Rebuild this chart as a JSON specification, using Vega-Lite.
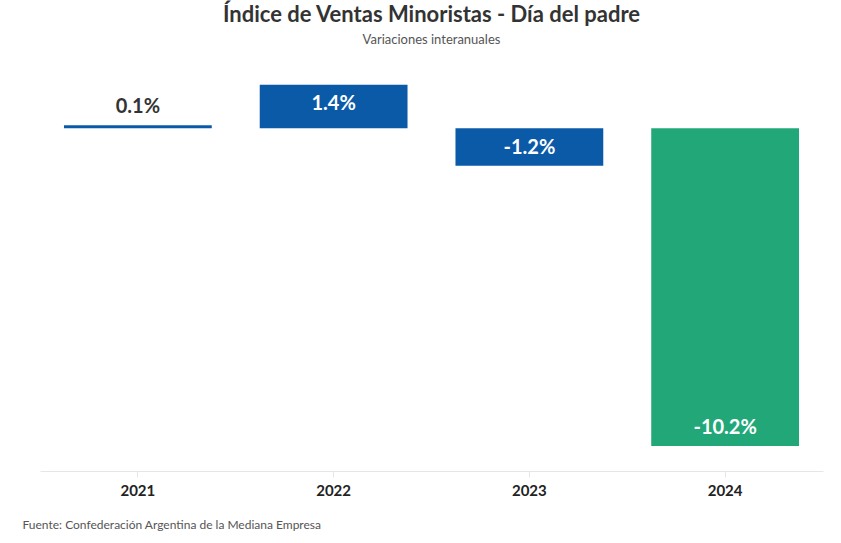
{
  "$schema": "https://vega.github.io/schema/vega-lite/v6.json",
  "width": 783,
  "height": 405,
  "autosize": {"type": "none"},
  "padding": {"left": 40, "top": 66, "right": 18, "bottom": 72},
  "background": "white",
  "config": {"font": "Lato", "view": {"stroke": null}},
  "title": {
    "text": "Índice de Ventas Minoristas - Día del padre",
    "subtitle": "Variaciones interanuales",
    "anchor": "middle",
    "fontSize": 22,
    "fontWeight": "bold",
    "color": "#333333",
    "subtitleFontSize": 13,
    "subtitleColor": "#555555",
    "subtitlePadding": 7,
    "offset": 18
  },
  "data": {
    "values": [
      {"year": "2021", "value": 0.1, "label": "0.1%"},
      {"year": "2022", "value": 1.4, "label": "1.4%"},
      {"year": "2023", "value": -1.2, "label": "-1.2%"},
      {"year": "2024", "value": -10.2, "label": "-10.2%"}
    ]
  },
  "encoding": {
    "x": {
      "field": "year",
      "type": "nominal",
      "scale": {"paddingInner": 0.245, "paddingOuter": 0.1225},
      "axis": {
        "labelAngle": 0,
        "labelFontSize": 15,
        "labelFontWeight": "bold",
        "labelColor": "#222222",
        "labelPadding": 6,
        "domainColor": "#e6e6e6",
        "tickColor": "#e6e6e6",
        "tickSize": 6,
        "title": "Fuente: Confederación Argentina de la Mediana Empresa",
        "titleFontSize": 12,
        "titleFontWeight": "normal",
        "titleColor": "#555555",
        "titleAnchor": "start",
        "titleAlign": "left",
        "titleX": -18,
        "titleY": 48
      }
    },
    "y": {
      "field": "value",
      "type": "quantitative",
      "scale": {"domain": [-11, 2], "nice": false, "zero": true},
      "axis": null
    }
  },
  "layer": [
    {
      "mark": {"type": "bar"},
      "encoding": {
        "color": {
          "condition": {"test": "datum.year === '2024'", "value": "#22a878"},
          "value": "#0a5aa8"
        }
      }
    },
    {
      "transform": [{"filter": "datum.value < 1"}],
      "mark": {"type": "text", "fontSize": 20, "fontWeight": "bold", "dy": -18, "baseline": "middle"},
      "encoding": {
        "text": {"field": "label"},
        "color": {
          "condition": {"test": "datum.value > 0", "value": "#333333"},
          "value": "white"
        }
      }
    },
    {
      "transform": [{"filter": "datum.value >= 1"}],
      "mark": {"type": "text", "fontSize": 20, "fontWeight": "bold", "dy": 19, "baseline": "middle", "color": "white"},
      "encoding": {
        "text": {"field": "label"}
      }
    }
  ]
}
